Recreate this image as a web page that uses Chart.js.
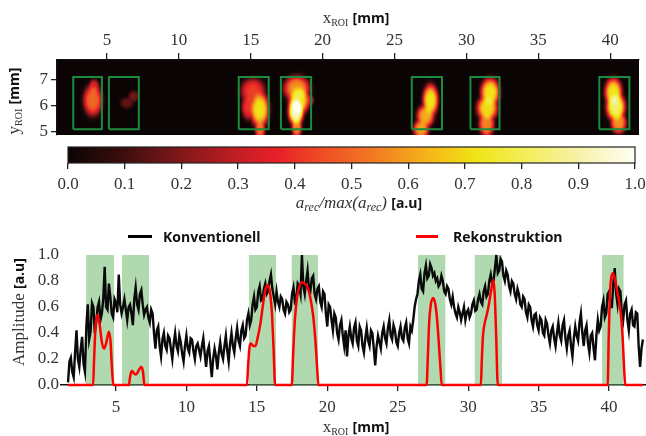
<!DOCTYPE html>
<html>
<head>
<meta charset="utf-8">
<script src="https://cdn.jsdelivr.net/npm/chart.js@4.4.1/dist/chart.umd.min.js"></script>
<style>
  body { margin: 0; width: 646px; height: 436px; background: #fff; position: relative; overflow: hidden; }
  canvas { position: absolute; left: 0; }
  .lbl { position: absolute; white-space: nowrap; color: #333; font-family: "Liberation Serif", serif; font-size: 17px; line-height: 1; transform: translate(-50%, -50%); }
  .rot { transform: translate(-50%, -50%) rotate(-90deg); }
  .b { font-family: "Open Sans", sans-serif; font-weight: bold; font-size: 14px; color: #111; }
  .lbl sub { font-size: 10px; vertical-align: -3px; }
  .mi { font-style: italic; }
  .mi sub { font-size: 12px; }
  .legline { position: absolute; height: 3px; }
  .legtxt { position: absolute; white-space: nowrap; font-family: "Open Sans", sans-serif; font-weight: bold; font-size: 14px; color: #111; line-height: 1; transform: translateY(-50%); }
</style>
</head>
<body>
<canvas id="top" width="646" height="140" style="top:0"></canvas>
<canvas id="cbar" width="646" height="75" style="top:140px"></canvas>
<canvas id="amp" width="646" height="216" style="top:220px"></canvas>

<div class="lbl" style="left:356px;top:18px">x<sub>ROI</sub> <span class="b">[mm]</span></div>
<div class="lbl rot" style="left:14px;top:101px">y<sub>ROI</sub> <span class="b">[mm]</span></div>
<div class="lbl" style="left:359px;top:203px"><span class="mi">a<sub>rec</sub>/max(a<sub>rec</sub>)</span> <span class="b">[a.u]</span></div>
<div class="legline" style="left:128px;top:235px;width:24px;background:#000"></div>
<div class="legtxt" style="left:163px;top:237px">Konventionell</div>
<div class="legline" style="left:416px;top:235px;width:22px;background:#f00"></div>
<div class="legtxt" style="left:453px;top:237px">Rekonstruktion</div>
<div class="lbl rot" style="left:18px;top:312px">Amplitude <span class="b">[a.u]</span></div>
<div class="lbl" style="left:356px;top:427px">x<sub>ROI</sub> <span class="b">[mm]</span></div>

<script>
// top image: tick labels and ROI boxes
const roiTicksX = [5, 10, 15, 20, 25, 30, 35, 40];
const roiTicksY = [5, 6, 7];
const boxStart = [2.66, 5.14, 14.17, 17.1, 26.2, 30.28, 39.24];
const boxEnd = [4.65, 7.22, 16.25, 19.2, 28.3, 32.3, 41.33];
const boxBottom = 5.1;
const boxTop = 7.08;

// reconstructed spots (centre, spread, peak)
const blobX = [4.02, 4.1, 4.5, 6.4, 6.85, 15.15, 14.85, 15.62, 15.65, 18.2, 18.35, 18.15, 18.2, 19.1, 27.5, 27.15, 26.85, 31.65, 31.45, 31.4, 31.4, 40.22, 40.38, 40.58];
const blobY = [6.2, 6.7, 6.0, 6.1, 6.35, 6.55, 5.95, 5.85, 5.1, 6.65, 6.2, 5.8, 5.2, 6.2, 6.2, 5.6, 5.1, 6.5, 5.9, 5.3, 4.98, 6.5, 5.95, 5.35];
const blobSX = [0.55, 0.3, 0.15, 0.4, 0.3, 0.7, 0.4, 0.55, 0.3, 0.75, 0.6, 0.45, 0.3, 0.25, 0.45, 0.5, 0.45, 0.55, 0.6, 0.45, 0.2, 0.5, 0.55, 0.45];
const blobSY = [0.5, 0.25, 0.15, 0.18, 0.18, 0.4, 0.4, 0.55, 0.3, 0.4, 0.45, 0.45, 0.35, 0.18, 0.5, 0.35, 0.3, 0.45, 0.4, 0.4, 0.15, 0.45, 0.45, 0.35];
const blobAmp = [0.5, 0.35, 0.15, 0.15, 0.18, 0.42, 0.4, 0.72, 0.5, 0.58, 0.72, 0.95, 0.55, 0.3, 0.72, 0.62, 0.6, 0.72, 0.7, 0.55, 0.3, 0.72, 0.82, 0.58];

// colour map of the colorbar
const cmapPos = [0, 0.1, 0.2, 0.3, 0.37, 0.45, 0.55, 0.65, 0.72, 0.8, 0.9, 1.0];
const cmapColor = [[10,4,4],[62,14,14],[128,24,26],[195,30,36],[232,32,40],[238,78,36],[242,128,34],[245,190,24],[240,228,22],[243,238,84],[246,242,168],[255,255,244]];
const cbTicks = [0, 0.1, 0.2, 0.3, 0.4, 0.5, 0.6, 0.7, 0.8, 0.9, 1.0];

// amplitude plot
const ampTicks = [0, 0.2, 0.4, 0.6, 0.8, 1.0];
const xTicks = [5, 10, 15, 20, 25, 30, 35, 40];
const bandStart = [2.88, 5.42, 14.43, 17.46, 26.42, 30.45, 39.5];
const bandEnd = [4.88, 7.36, 16.37, 19.35, 28.39, 32.42, 41.04];

// conventional profile, one sample every 0.1 mm from 1.6 mm
const konvStart = 1.6;
const konvStep = 0.1;
const konvY = [
  0.02,0.18,0.21,0.10,0.06,0.25,0.42,0.20,0.14,0.28,
  0.37,0.16,0.10,0.45,0.62,0.35,0.41,0.63,0.60,0.40,
  0.48,0.60,0.64,0.50,0.55,0.66,0.91,0.60,0.58,0.78,
  0.68,0.55,0.52,0.66,0.63,0.56,0.85,0.62,0.55,0.60,
  0.66,0.58,0.50,0.60,0.62,0.55,0.46,0.66,0.75,0.62,
  0.58,0.70,0.73,0.62,0.54,0.58,0.60,0.52,0.48,0.58,
  0.55,0.40,0.28,0.42,0.45,0.30,0.22,0.35,0.40,0.30,
  0.27,0.38,0.36,0.28,0.20,0.32,0.40,0.30,0.26,0.38,
  0.33,0.24,0.18,0.30,0.38,0.28,0.25,0.36,0.35,0.26,
  0.20,0.30,0.32,0.27,0.22,0.30,0.36,0.24,0.14,0.26,
  0.30,0.18,0.06,0.20,0.28,0.22,0.12,0.25,0.33,0.24,
  0.20,0.30,0.38,0.26,0.18,0.32,0.40,0.30,0.25,0.36,
  0.44,0.34,0.30,0.42,0.46,0.36,0.38,0.50,0.55,0.46,
  0.50,0.62,0.68,0.58,0.60,0.72,0.76,0.65,0.66,0.74,
  0.78,0.70,0.72,0.80,0.85,0.74,0.68,0.62,0.72,0.64,
  0.60,0.68,0.66,0.58,0.55,0.64,0.62,0.56,0.58,0.70,
  0.75,0.64,0.66,0.78,0.76,0.70,1.00,0.76,0.70,0.80,
  0.88,0.74,0.72,0.82,0.84,0.70,0.66,0.74,0.76,0.64,
  0.60,0.72,0.70,0.55,0.45,0.62,0.60,0.50,0.42,0.55,
  0.52,0.40,0.35,0.46,0.50,0.38,0.30,0.42,0.22,0.38,
  0.45,0.36,0.32,0.44,0.48,0.34,0.30,0.45,0.42,0.30,
  0.25,0.36,0.44,0.34,0.30,0.42,0.40,0.28,0.15,0.30,
  0.38,0.33,0.28,0.40,0.45,0.36,0.32,0.44,0.50,0.38,
  0.35,0.46,0.42,0.33,0.30,0.40,0.45,0.36,0.34,0.44,
  0.48,0.36,0.32,0.45,0.42,0.50,0.60,0.66,0.70,0.80,
  0.85,0.74,0.72,0.86,0.92,0.82,0.84,0.93,0.90,0.84,
  0.86,0.80,0.82,0.76,0.78,0.84,0.80,0.72,0.70,0.76,
  0.74,0.66,0.62,0.68,0.60,0.55,0.52,0.60,0.56,0.50,
  0.55,0.60,0.50,0.56,0.58,0.52,0.55,0.62,0.65,0.57,
  0.58,0.66,0.70,0.64,0.62,0.72,0.76,0.68,0.70,0.80,
  0.85,0.78,0.80,0.90,1.00,0.86,0.88,0.97,0.95,0.84,
  0.80,0.88,0.85,0.76,0.72,0.80,0.78,0.70,0.66,0.74,
  0.70,0.62,0.60,0.68,0.66,0.56,0.52,0.62,0.60,0.50,
  0.45,0.54,0.55,0.46,0.42,0.52,0.50,0.40,0.38,0.50,
  0.47,0.38,0.32,0.42,0.45,0.36,0.30,0.40,0.48,0.38,
  0.34,0.46,0.50,0.36,0.28,0.38,0.42,0.30,0.22,0.36,
  0.45,0.38,0.34,0.48,0.55,0.40,0.30,0.42,0.46,0.32,
  0.25,0.38,0.40,0.28,0.19,0.38,0.50,0.42,0.45,0.60,
  0.65,0.52,0.55,0.70,0.72,0.60,0.60,0.78,0.90,0.70,
  0.62,0.74,0.72,0.56,0.50,0.62,0.65,0.50,0.42,0.55,
  0.58,0.46,0.45,0.56,0.55,0.30,0.14,0.28,0.35
];

const rekonX = [1.6,
  3.38,3.45,3.55,3.7,3.85,4.0,4.15,4.3,4.5,4.62,4.72,4.82,
  5.92,6.0,6.12,6.28,6.42,6.6,6.8,6.92,7.02,
  14.3,14.38,14.48,14.58,14.75,14.9,15.05,15.25,15.45,15.62,15.8,15.95,16.07,16.18,16.3,
  17.48,17.58,17.7,17.85,18.0,18.2,18.4,18.6,18.8,19.0,19.15,19.27,19.37,
  27.05,27.13,27.23,27.35,27.52,27.65,27.78,27.93,28.04,28.12,
  30.9,30.97,31.05,31.18,31.32,31.47,31.62,31.78,31.88,31.98,32.1,
  39.9,39.97,40.06,40.16,40.28,40.4,40.55,40.7,40.85,40.97,41.07,41.15,
  42.4];
const rekonY = [0,
  0,0.2,0.45,0.54,0.46,0.33,0.28,0.32,0.41,0.33,0.12,0,
  0,0.06,0.11,0.09,0.08,0.11,0.14,0.1,0,
  0,0.15,0.29,0.32,0.3,0.3,0.36,0.47,0.63,0.74,0.77,0.7,0.55,0.3,0,
  0,0.25,0.5,0.67,0.75,0.79,0.78,0.75,0.67,0.53,0.35,0.15,0,
  0,0.2,0.48,0.62,0.67,0.63,0.52,0.3,0.12,0,
  0,0.2,0.38,0.48,0.54,0.62,0.72,0.81,0.7,0.4,0,
  0,0.35,0.7,0.83,0.86,0.82,0.74,0.65,0.53,0.35,0.12,0,
  0];

const tickFont = { family: 'Liberation Serif', size: 17 };
const tickColor = '#333';

function cmap(v) {
  v = Math.max(0, Math.min(1, v));
  let i = 1;
  while (i < cmapPos.length - 1 && v > cmapPos[i]) i++;
  const t = (v - cmapPos[i - 1]) / (cmapPos[i] - cmapPos[i - 1]);
  const a = cmapColor[i - 1], b = cmapColor[i];
  return [0, 1, 2].map(k => Math.round(a[k] + (b[k] - a[k]) * t));
}

//draws the reconstruction image behind the boxes
const heatPlugin = {
  id: 'heat',
  beforeDraw(chart) {
    const { ctx, chartArea: a, scales: { x, y } } = chart;
    const w = Math.round(a.right - a.left), h = Math.round(a.bottom - a.top);
    const img = ctx.createImageData(w, h);
    for (let j = 0; j < h; j++) {
      const yv = y.getValueForPixel(a.top + j + 0.5);
      for (let i = 0; i < w; i++) {
        const xv = x.getValueForPixel(a.left + i + 0.5);
        let s = 0;
        for (let k = 0; k < blobX.length; k++) {
          const dx = (xv - blobX[k]) / blobSX[k], dy = (yv - blobY[k]) / blobSY[k];
          const r2 = dx * dx + dy * dy;
          if (r2 > 6) continue;
          const v = blobAmp[k] * Math.exp(-0.5 * r2 * r2);
          s += v * v * v;
        }
        const c = cmap(Math.cbrt(s));
        const p = (j * w + i) * 4;
        img.data[p] = c[0]; img.data[p + 1] = c[1]; img.data[p + 2] = c[2]; img.data[p + 3] = 255;
      }
    }
    ctx.putImageData(img, Math.round(a.left), Math.round(a.top));
  }
};

//draws the colour gradient of the colorbar
const cbarPlugin = {
  id: 'cbarFill',
  beforeDraw(chart) {
    const { ctx, chartArea: a, scales: { x } } = chart;
    const g = ctx.createLinearGradient(x.getPixelForValue(0), 0, x.getPixelForValue(1), 0);
    cmapPos.forEach((p, i) => g.addColorStop(p, 'rgb(' + cmapColor[i].join(',') + ')'));
    ctx.fillStyle = g;
    ctx.fillRect(a.left, a.top, a.right - a.left, a.bottom - a.top);
  },
  afterDraw(chart) {
    const { ctx, chartArea: a } = chart;
    ctx.strokeStyle = '#222';
    ctx.lineWidth = 1.2;
    ctx.strokeRect(a.left, a.top, a.right - a.left, a.bottom - a.top);
  }
};

const noInteraction = {
  responsive: false,
  animation: false,
  events: [],
  plugins: { legend: { display: false }, tooltip: { enabled: false } }
};

// top image
new Chart(document.getElementById('top'), {
  type: 'line',
  data: {
    datasets: boxStart.map((s, i) => ({
      data: [{ x: s, y: boxBottom }, { x: boxEnd[i], y: boxBottom }, { x: boxEnd[i], y: boxTop }, { x: s, y: boxTop }, { x: s, y: boxBottom }],
      borderColor: '#1d8b3e', borderWidth: 2, pointRadius: 0, tension: 0
    }))
  },
  options: {
    ...noInteraction,
    layout: { padding: { left: 0, right: 7, top: 0, bottom: 5 } },
    scales: {
      x: {
        type: 'linear', position: 'top', min: 1.53, max: 42.0,
        afterBuildTicks: s => { s.ticks = roiTicksX.map(v => ({ value: v })); },
        afterFit: s => { s.height = 60; s.paddingLeft = 0; s.paddingRight = 0; },
        grid: { drawOnChartArea: false, tickLength: 7, color: '#222', lineWidth: 1.3 },
        border: { color: '#111', width: 1.5 },
        ticks: { font: tickFont, color: tickColor, padding: 2, maxRotation: 0, autoSkip: false }
      },
      y: {
        type: 'linear', min: 4.88, max: 7.73,
        afterBuildTicks: s => { s.ticks = roiTicksY.map(v => ({ value: v })); },
        afterFit: s => { s.width = 57; s.paddingTop = 0; s.paddingBottom = 0; },
        grid: { drawOnChartArea: false, tickLength: 6, color: '#222', lineWidth: 1.3 },
        border: { color: '#111', width: 1.5 },
        ticks: { font: tickFont, color: tickColor, padding: 3, autoSkip: false }
      }
    }
  },
  plugins: [heatPlugin]
});

// colorbar
new Chart(document.getElementById('cbar'), {
  type: 'line',
  data: { datasets: [] },
  options: {
    ...noInteraction,
    layout: { padding: { left: 68, right: 11, top: 7, bottom: 0 } },
    scales: {
      x: {
        type: 'linear', min: 0, max: 1,
        afterBuildTicks: s => { s.ticks = cbTicks.map(v => ({ value: v })); },
        afterFit: s => { s.height = 52; s.paddingLeft = 0; s.paddingRight = 0; },
        grid: { drawOnChartArea: false, tickLength: 6, color: '#222', lineWidth: 1.3 },
        border: { display: false },
        ticks: { font: tickFont, color: tickColor, padding: 5, maxRotation: 0, autoSkip: false, callback: v => v.toFixed(1) }
      },
      y: { type: 'linear', min: 0, max: 1, display: false }
    }
  },
  plugins: [cbarPlugin]
});

// amplitude profiles
const bandSets = bandStart.map((s, i) => ({
  data: [{ x: s, y: 1 }, { x: bandEnd[i], y: 1 }],
  borderWidth: 0, pointRadius: 0, fill: 'origin',
  backgroundColor: 'rgba(100,180,95,0.5)', order: 3
}));

new Chart(document.getElementById('amp'), {
  type: 'line',
  data: {
    datasets: [
      {
        label: 'Rekonstruktion',
        data: rekonX.map((x, i) => ({ x: x, y: rekonY[i] })),
        borderColor: '#f00', borderWidth: 2.5, pointRadius: 0,
        cubicInterpolationMode: 'monotone', clip: 4, order: 0
      },
      {
        label: 'Konventionell',
        data: konvY.map((v, i) => ({ x: konvStart + i * konvStep, y: v })),
        borderColor: '#0a0a0a', borderWidth: 2.4, pointRadius: 0,
        tension: 0, clip: 4, order: 1
      },
      ...bandSets
    ]
  },
  options: {
    ...noInteraction,
    layout: { padding: { left: 0, right: 0, top: 35, bottom: 0 } },
    scales: {
      x: {
        type: 'linear', min: 1.1, max: 42.62,
        afterBuildTicks: s => { s.ticks = xTicks.map(v => ({ value: v })); },
        afterFit: s => { s.height = 51; s.paddingLeft = 0; s.paddingRight = 0; },
        grid: { drawOnChartArea: false, tickLength: 6, color: '#222', lineWidth: 1.3 },
        border: { color: '#111', width: 1.5 },
        ticks: { font: tickFont, color: tickColor, padding: 6, maxRotation: 0, autoSkip: false }
      },
      y: {
        type: 'linear', min: 0, max: 1,
        afterBuildTicks: s => { s.ticks = ampTicks.map(v => ({ value: v })); },
        afterFit: s => { s.width = 61; s.paddingTop = 0; s.paddingBottom = 0; },
        grid: { display: false, drawTicks: false },
        border: { display: false },
        ticks: { font: tickFont, color: tickColor, padding: 2, autoSkip: false, callback: v => v.toFixed(1) }
      }
    }
  }
});
</script>
</body>
</html>
